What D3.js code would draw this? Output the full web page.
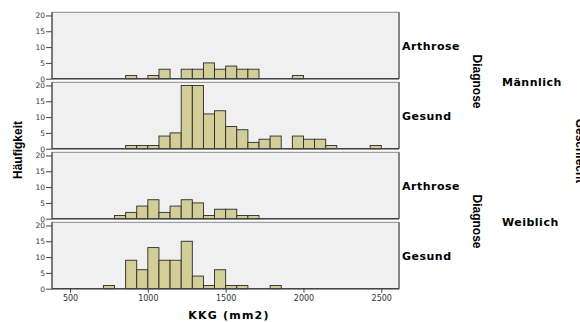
<!DOCTYPE html>
<html>
<head>
<meta charset="utf-8">
<script src="https://cdn.jsdelivr.net/npm/d3@7"></script>
<style>
  html, body { margin: 0; padding: 0; background: #fff; }
  svg { display: block; }
</style>
</head>
<body>
<svg id="chart" width="580" height="322"></svg>
<script>
// Histogram bins of KKG (mm2): lower edge of the first bin and common width
const binStart = 714.29;
const binWidth = 71.43;

// Panel rows: sex × diagnosis
const sexes = ["Männlich", "Weiblich"];
const diagnoses = ["Arthrose", "Gesund"];

// Frequencies per bin (25 bins from 714 to 2500)
const maleArthrose   = [0,0,1,0,1,3,0,3,3,5,3,4,3,3,0,0,0,1,0,0,0,0,0,0,0];
const maleGesund     = [0,0,1,1,1,4,5,20,20,11,12,7,6,2,3,4,0,4,3,3,1,0,0,0,1];
const femaleArthrose = [0,1,2,4,6,2,4,6,5,1,3,3,1,1,0,0,0,0,0,0,0,0,0,0,0];
const femaleGesund   = [1,0,9,6,13,9,9,15,4,1,6,1,1,0,0,1,0,0,0,0,0,0,0,0,0];

const xTicks = [500, 1000, 1500, 2000, 2500];
const yTicks = [0, 5, 10, 15, 20];

const panels = [
  { sex: sexes[0], diag: diagnoses[0], counts: maleArthrose },
  { sex: sexes[0], diag: diagnoses[1], counts: maleGesund },
  { sex: sexes[1], diag: diagnoses[0], counts: femaleArthrose },
  { sex: sexes[1], diag: diagnoses[1], counts: femaleGesund }
];

const svg = d3.select("#chart");
const left = 52, right = 399;
const firstBase = 78.7, pitch = 70, panelH = 66.4;

const x = d3.scaleLinear().domain([384, 2614]).range([left, right]);

const barFill = "#d3ce97";
const narrow = "'Liberation Sans Narrow', 'Arial Narrow', 'Liberation Sans', Arial, sans-serif";
const wide = "'DejaVu Sans', Verdana, sans-serif";

panels.forEach((p, i) => {
  const base = firstBase + pitch * i;
  const top = base - panelH;
  const y = d3.scaleLinear().domain([0, 21]).range([base, top]);
  const g = svg.append("g");

  // panel frame
  g.append("rect")
    .attr("x", left).attr("y", top)
    .attr("width", right - left).attr("height", panelH)
    .attr("fill", "#f0f0f0")
    .attr("stroke", "#8a8a8a").attr("stroke-width", 1);
  g.append("line")
    .attr("x1", right).attr("x2", right).attr("y1", top).attr("y2", base)
    .attr("stroke", "#777").attr("stroke-width", 1.6);

  // bars
  const bins = p.counts.map((c, k) => ({
    x0: binStart + k * binWidth,
    x1: binStart + (k + 1) * binWidth,
    n: c
  })).filter(d => d.n > 0);

  g.selectAll("rect.bar").data(bins).join("rect")
    .attr("class", "bar")
    .attr("x", d => x(d.x0))
    .attr("y", d => y(d.n))
    .attr("width", d => x(d.x1) - x(d.x0))
    .attr("height", d => y(0) - y(d.n))
    .attr("fill", barFill)
    .attr("stroke", "#2b2b2b").attr("stroke-width", 0.9);

  // y axis
  const yAxis = d3.axisLeft(y).tickValues(yTicks).tickSize(6).tickPadding(1)
    .tickFormat(d3.format("d"));
  const ya = g.append("g").attr("transform", `translate(${left},0)`).call(yAxis);
  ya.select(".domain").attr("stroke", "#333").attr("d", `M0,${top}V${base}`);
  ya.selectAll(".tick line").attr("stroke", "#444");
  ya.selectAll(".tick text")
    .attr("font-family", wide).attr("font-size", 7.5).attr("fill", "#333");

  // baseline
  g.append("line")
    .attr("x1", left).attr("x2", right).attr("y1", base).attr("y2", base)
    .attr("stroke", "#444").attr("stroke-width", 1.4);

  // row label (diagnosis)
  g.append("text")
    .attr("x", 402).attr("y", (top + base) / 2 + 1)
    .attr("dominant-baseline", "middle")
    .attr("font-family", wide).attr("font-weight", "bold")
    .attr("font-size", 11).attr("letter-spacing", 0.5)
    .attr("fill", "#000")
    .text(p.diag);

  // bottom x axis
  if (i === panels.length - 1) {
    const xAxis = d3.axisBottom(x).tickValues(xTicks).tickSize(4).tickPadding(3)
      .tickFormat(d3.format("d"));
    const xa = svg.append("g").attr("transform", `translate(0,${base})`).call(xAxis);
    xa.select(".domain").remove();
    xa.selectAll(".tick line").attr("stroke", "#444");
    xa.selectAll(".tick text")
      .attr("font-family", wide).attr("font-size", 8).attr("fill", "#333");
  }
});

// sex labels with "Diagnose" strip titles
sexes.forEach((s, j) => {
  const cy = firstBase + pitch * (2 * j) + pitch / 2 - panelH / 2 + 1;
  svg.append("text")
    .attr("x", 502).attr("y", cy + 1)
    .attr("dominant-baseline", "middle")
    .attr("font-family", wide).attr("font-weight", "bold")
    .attr("font-size", 11).attr("letter-spacing", 0.5)
    .attr("fill", "#000")
    .text(s);
  svg.append("text")
    .attr("transform", `translate(473,${cy}) rotate(90)`)
    .attr("text-anchor", "middle")
    .attr("font-family", narrow).attr("font-weight", "bold")
    .attr("font-size", 12).attr("fill", "#000")
    .text("Diagnose");
});

// outer strip title, partly outside the page
svg.append("text")
  .attr("transform", `translate(576,151) rotate(90)`)
  .attr("text-anchor", "middle")
  .attr("font-family", narrow).attr("font-weight", "bold")
  .attr("font-size", 12).attr("fill", "#000")
  .text("Geschlecht");

// axis titles
svg.append("text")
  .attr("x", 229).attr("y", 319)
  .attr("text-anchor", "middle")
  .attr("font-family", wide).attr("font-weight", "bold")
  .attr("font-size", 11).attr("letter-spacing", 1.2)
  .attr("fill", "#000")
  .text("KKG (mm2)");

svg.append("text")
  .attr("transform", `translate(22,150) rotate(-90)`)
  .attr("text-anchor", "middle")
  .attr("font-family", narrow).attr("font-weight", "bold")
  .attr("font-size", 12).attr("fill", "#000")
  .text("Häufigkeit");
</script>
</body>
</html>
